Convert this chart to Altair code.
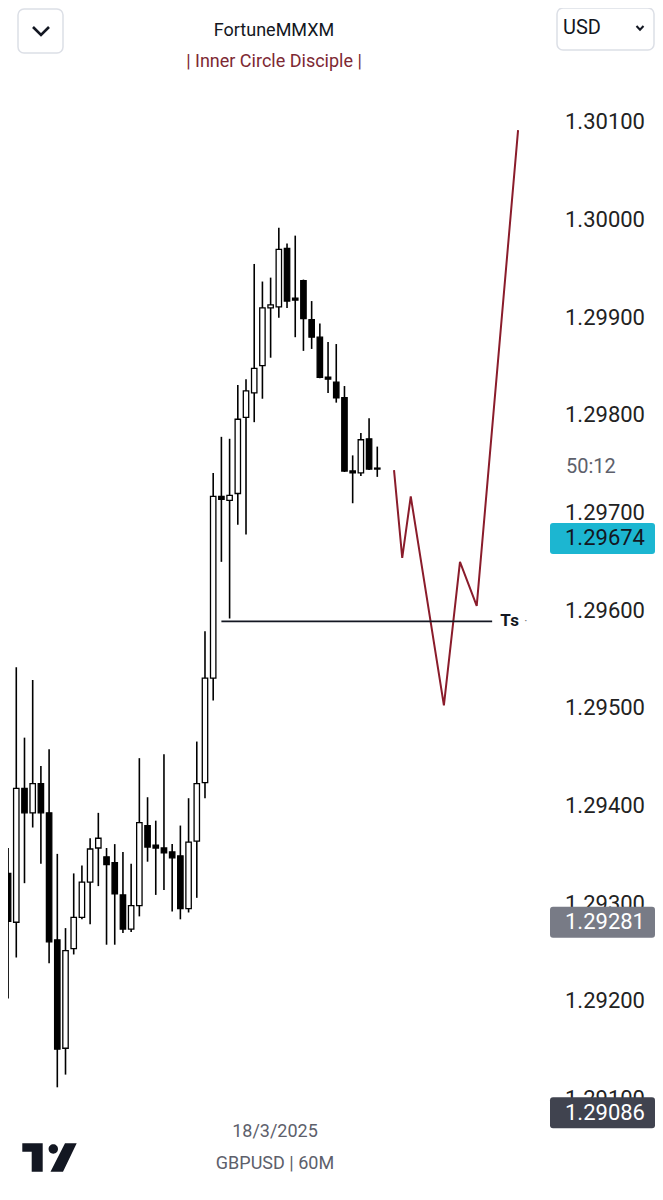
import altair as alt
import pandas as pd

# ---- candle data (GBPUSD 60M) ----
opens = [1.29331, 1.29281, 1.29418, 1.29393, 1.29423, 1.29393, 1.29263, 1.29152, 1.29254, 1.29286,
         1.29322, 1.29357, 1.29348, 1.29342, 1.29309, 1.29274, 1.29298, 1.29380, 1.29360, 1.29357,
         1.29353, 1.29349, 1.29295, 1.29364, 1.29424, 1.29531, 1.29717, 1.29713, 1.29720, 1.29798,
         1.29823, 1.29851, 1.29910, 1.29911, 1.29971, 1.29920, 1.29938, 1.29898, 1.29880, 1.29839,
         1.29834, 1.29818, 1.29743, 1.29741, 1.29776, 1.29746]
highs = [1.29357, 1.29542, 1.29470, 1.29529, 1.29441, 1.29458, 1.29351, 1.29275, 1.29331, 1.29339,
         1.29367, 1.29393, 1.29357, 1.29361, 1.29353, 1.29341, 1.29449, 1.29409, 1.29385, 1.29453,
         1.29361, 1.29380, 1.29408, 1.29466, 1.29579, 1.29741, 1.29778, 1.29776, 1.29831, 1.29837,
         1.29955, 1.29937, 1.29941, 1.29992, 1.29976, 1.29984, 1.29939, 1.29917, 1.29894, 1.29875,
         1.29873, 1.29830, 1.29759, 1.29782, 1.29797, 1.29768]
lows = [1.29203, 1.29245, 1.29321, 1.29378, 1.29341, 1.29239, 1.29112, 1.29125, 1.29248, 1.29284,
        1.29279, 1.29318, 1.29258, 1.29258, 1.29270, 1.29271, 1.29287, 1.29343, 1.29309, 1.29314,
        1.29292, 1.29284, 1.29291, 1.29306, 1.29408, 1.29508, 1.29650, 1.29592, 1.29688, 1.29678,
        1.29793, 1.29817, 1.29859, 1.29900, 1.29910, 1.29880, 1.29866, 1.29868, 1.29838, 1.29823,
        1.29813, 1.29742, 1.29710, 1.29738, 1.29744, 1.29737]
closes = [1.29282, 1.29418, 1.29393, 1.29423, 1.29393, 1.29261, 1.29151, 1.29252, 1.29286, 1.29322,
          1.29356, 1.29367, 1.29340, 1.29310, 1.29274, 1.29298, 1.29383, 1.29358, 1.29357, 1.29352,
          1.29347, 1.29295, 1.29363, 1.29423, 1.29531, 1.29717, 1.29714, 1.29718, 1.29796, 1.29825,
          1.29848, 1.29910, 1.29913, 1.29970, 1.29917, 1.29918, 1.29899, 1.29880, 1.29839, 1.29837,
          1.29818, 1.29743, 1.29741, 1.29775, 1.29745, 1.29745]

# ---- projected path (drawn in red) ----
path_bar = [47.04, 48.04, 49.08, 53.12, 55.08, 57.12, 62.16]
path_price = [1.29744, 1.29654, 1.29717, 1.29503, 1.29650, 1.29605, 1.30092]

# ---- Ts level ----
ts_start, ts_end, ts_level = 26, 59, 1.29589

# ---- price scale labels ----
axis_prices = [1.30100, 1.30000, 1.29900, 1.29800, 1.29700, 1.29600, 1.29500, 1.29400, 1.29300, 1.29200, 1.29100]
axis_labels = ["1.30100", "1.30000", "1.29900", "1.29800", "1.29700", "1.29600", "1.29500", "1.29400", "1.29300", "1.29200", "1.29100"]

# ---- highlighted price tags ----
tag_prices = [1.29674, 1.29281, 1.29086]
tag_labels = ["1.29674", "1.29281", "1.29086"]
tag_fills = ["#1cb6d1", "#787b86", "#40434f"]
tag_text = ["#131722", "#ffffff", "#ffffff"]

W, H = 647, 1184
XS = alt.Scale(domain=[0.6, 78.24], nice=False, zero=False)
YS = alt.Scale(domain=[1.2900481, 1.3021706], nice=False, zero=False)

candles = pd.DataFrame({
    "bar": list(range(len(opens))),
    "open": opens, "high": highs, "low": lows, "close": closes,
})
candles["dir"] = ["up" if c > o else "down" for o, c in zip(opens, closes)]

base = alt.Chart(candles)
wicks = base.mark_rule(color="#000000", strokeWidth=1.6).encode(
    x=alt.X("bar:Q", scale=XS, axis=None),
    y=alt.Y("low:Q", scale=YS, axis=None),
    y2="high:Q",
)
bodies = base.mark_bar(width=5.4, stroke="#000000", strokeWidth=1.3).encode(
    x=alt.X("bar:Q", scale=XS, axis=None),
    y=alt.Y("open:Q", scale=YS, axis=None),
    y2="close:Q",
    fill=alt.Fill("dir:N", scale=alt.Scale(domain=["up", "down"], range=["#ffffff", "#000000"]), legend=None),
)

path_df = pd.DataFrame({"bar": path_bar, "price": path_price})
proj = alt.Chart(path_df).mark_line(color="#8a1c2b", strokeWidth=2).encode(
    x=alt.X("bar:Q", scale=XS, axis=None),
    y=alt.Y("price:Q", scale=YS, axis=None),
    order="bar:Q",
)

ts_df = pd.DataFrame({"x1": [ts_start], "x2": [ts_end], "lvl": [ts_level], "txt": ["Ts"], "tx": [60.0], "dx": [63.1]})
ts_line = alt.Chart(ts_df).mark_rule(color="#131722", strokeWidth=1.8).encode(
    x=alt.X("x1:Q", scale=XS, axis=None), x2="x2:Q",
    y=alt.Y("lvl:Q", scale=YS, axis=None),
)
ts_text = alt.Chart(ts_df).mark_text(align="left", baseline="middle", font="Roboto", fontSize=17,
                                      fontWeight="bold", color="#131722").encode(
    x=alt.X("tx:Q", scale=XS, axis=None),
    y=alt.Y("lvl:Q", scale=YS, axis=None),
    text="txt:N",
)
ts_dot = alt.Chart(ts_df).mark_text(align="center", baseline="middle", font="Roboto", fontSize=12,
                                     color="#777777", text="·").encode(
    x=alt.X("dx:Q", scale=XS, axis=None),
    y=alt.Y("lvl:Q", scale=YS, axis=None),
)

ax_df = pd.DataFrame({"price": axis_prices, "label": axis_labels})
ax_text = alt.Chart(ax_df).mark_text(align="left", baseline="middle", font="Roboto", fontSize=22,
                                      color="#222222").encode(
    x=alt.value(557),
    y=alt.Y("price:Q", scale=YS, axis=None),
    text="label:N",
)

tag_df = pd.DataFrame({"price": tag_prices, "label": tag_labels})
box_path = ("M -49.5 -15.5 H 49.5 Q 52.5 -15.5 52.5 -12.5 V 12.5 Q 52.5 15.5 49.5 15.5 "
            "H -49.5 Q -52.5 15.5 -52.5 12.5 V -12.5 Q -52.5 -15.5 -49.5 -15.5 Z")
tag_box = alt.Chart(tag_df).mark_point(shape=box_path, size=4, filled=True, opacity=1, strokeWidth=0).encode(
    x=alt.value(594.5),
    y=alt.Y("price:Q", scale=YS, axis=None),
    color=alt.Color("label:N", scale=alt.Scale(domain=tag_labels, range=tag_fills), legend=None),
)
tag_txt = alt.Chart(tag_df).mark_text(align="left", baseline="middle", font="Roboto", fontSize=22).encode(
    x=alt.value(557),
    y=alt.Y("price:Q", scale=YS, axis=None),
    text="label:N",
    fill=alt.Fill("label:N", scale=alt.Scale(domain=tag_labels, range=tag_text), legend=None),
)

countdown = alt.Chart(pd.DataFrame({"t": ["50:12"]})).mark_text(
    align="left", baseline="middle", font="Roboto", fontSize=20, color="#5d606b").encode(
    x=alt.value(558), y=alt.value(459), text="t:N")

# ---- header / footer chrome ----
one = pd.DataFrame({"k": [0]})
btn = alt.Chart(one).mark_rect(fill="#ffffff", stroke="#dcdfe6", strokeWidth=1.5, cornerRadius=6).encode(
    x=alt.value(10), x2=alt.value(55), y=alt.value(1), y2=alt.value(45))
chev = alt.Chart(one).mark_point(shape="M -8 -4 L 0 4 L 8 -4", size=4, filled=False, opacity=1,
                                 strokeWidth=2.6, color="#131722").encode(
    x=alt.value(33), y=alt.value(23))
usd_box = alt.Chart(one).mark_rect(fill="#ffffff", stroke="#dcdfe6", strokeWidth=1.5, cornerRadius=6).encode(
    x=alt.value(549), x2=alt.value(646), y=alt.value(0), y2=alt.value(42))
usd_txt = alt.Chart(pd.DataFrame({"t": ["USD"]})).mark_text(
    align="left", baseline="middle", font="Roboto", fontSize=20, color="#131722").encode(
    x=alt.value(555), y=alt.value(20), text="t:N")
usd_chev = alt.Chart(one).mark_point(shape="M -3.5 -2 L 0 1.8 L 3.5 -2", size=4, filled=False, opacity=1,
                                     strokeWidth=2, color="#131722").encode(
    x=alt.value(632), y=alt.value(20))

title = alt.Chart(pd.DataFrame({"t": ["FortuneMMXM"]})).mark_text(
    align="center", baseline="middle", font="Roboto", fontSize=18, color="#131722").encode(
    x=alt.value(266), y=alt.value(23), text="t:N")
subtitle = alt.Chart(pd.DataFrame({"t": ["| Inner Circle Disciple |"]})).mark_text(
    align="center", baseline="middle", font="Roboto", fontSize=18, color="#7d2833").encode(
    x=alt.value(266), y=alt.value(54), text="t:N")

date_txt = alt.Chart(pd.DataFrame({"t": ["18/3/2025"]})).mark_text(
    align="center", baseline="middle", font="Roboto", fontSize=18, color="#5d606b").encode(
    x=alt.value(267), y=alt.value(1124), text="t:N")
sym_txt = alt.Chart(pd.DataFrame({"t": ["GBPUSD | 60M"]})).mark_text(
    align="center", baseline="middle", font="Roboto", fontSize=18, color="#5d606b").encode(
    x=alt.value(267), y=alt.value(1156), text="t:N")

logo_path = ("M -27.7 -14.2 H -7.3 V 14.2 H -18.3 V -5.8 H -27.7 Z "
             "M -1.4 -8.5 A 4.7 4.7 0 1 0 8 -8.5 A 4.7 4.7 0 1 0 -1.4 -8.5 Z "
             "M 15 -14.2 H 26.7 L 13 14.2 H 0.5 Z")
logo = alt.Chart(one).mark_point(shape=logo_path, size=4, filled=True, opacity=1, strokeWidth=0,
                                 color="#131722").encode(
    x=alt.value(42), y=alt.value(1149.5))

chart = alt.layer(
    ax_text, countdown,
    wicks, bodies, proj, ts_line, ts_text, ts_dot,
    tag_box, tag_txt,
    btn, chev, usd_box, usd_txt, usd_chev, title, subtitle,
    date_txt, sym_txt, logo,
).resolve_scale(
    color="independent", fill="independent",
).properties(
    width=W, height=H, padding=0,
    autosize=alt.AutoSizeParams(type="none"),
    background="#ffffff",
).configure_view(stroke=None)

chart.save("out.html", embed_options={"renderer": "svg", "actions": False})
